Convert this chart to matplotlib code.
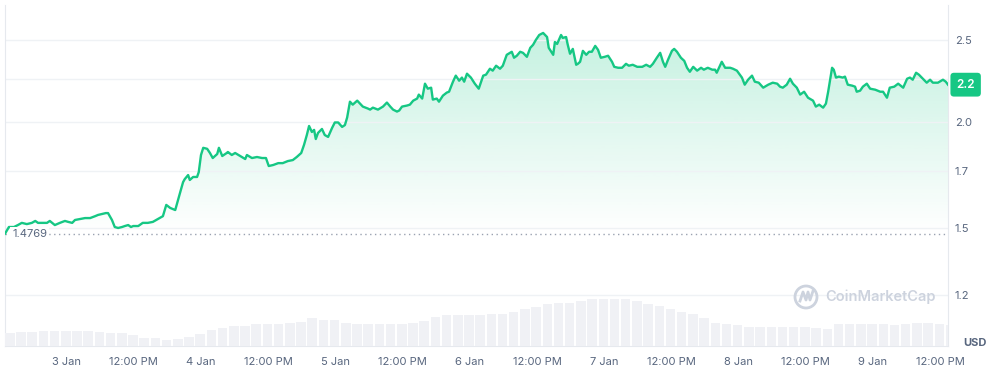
import numpy as np
import pandas as pd
import matplotlib
matplotlib.use("Agg")
import matplotlib.pyplot as plt
import matplotlib.dates as mdates
from matplotlib.ticker import FixedLocator, FuncFormatter, NullFormatter
from matplotlib.patches import Ellipse

plt.rcParams['font.family'] = ['Inter', 'DejaVu Sans']

# price series (hours after 2 Jan 13:00, price in USD)
hours = [0.0, 0.7, 1.6, 2.3, 3.0, 3.9, 4.8, 5.4, 5.9, 6.6, 7.5, 8.0, 8.9, 9.8, 10.7, 11.3, 12.0, 12.5, 13.4, 14.3,
         15.2, 16.1, 16.6, 17.3, 18.0, 18.4, 19.1, 19.6, 20.2, 20.9, 21.4, 22.0, 22.5, 22.9, 23.8, 24.6, 25.5, 26.4,
         27.3, 28.2, 28.8, 29.5, 30.4, 30.9, 31.4, 31.8, 32.1, 32.7, 33.0, 33.6, 34.3, 34.6, 35.0, 35.4, 36.1, 36.6,
         37.1, 37.9, 38.2, 38.8, 39.6, 39.8, 40.5, 41.1, 42.0, 42.9, 43.2, 44.1, 45.0, 45.9, 46.6, 47.1, 47.9, 48.8,
         49.6, 50.5, 51.4, 52.1, 52.9, 53.4, 53.9, 54.3, 54.8, 55.2, 55.5, 55.9, 56.6, 57.1, 57.7, 58.4, 58.9, 59.5,
         60.2, 60.7, 61.1, 61.6, 62.1, 62.9, 63.4, 63.9, 64.8, 65.2, 65.7, 66.6, 67.5, 68.2, 68.8, 69.3, 70.0, 70.4,
         70.9, 71.8, 72.3, 72.9, 73.6, 73.9, 74.5, 75.0, 75.5, 76.1, 76.4, 77.1, 77.5, 78.2, 78.9, 79.3, 80.0, 80.5,
         81.1, 81.6, 82.0, 82.5, 83.2, 83.9, 84.6, 85.4, 85.9, 86.6, 87.1, 87.7, 88.4, 88.9, 89.6, 90.5, 90.9, 91.4,
         92.0, 92.5, 93.2, 93.8, 94.3, 94.8, 95.4, 96.1, 96.8, 97.1, 97.9, 98.2, 98.6, 99.3, 99.6, 100.2, 100.5,
         100.9, 101.4, 102.0, 102.3, 102.7, 103.2, 103.8, 104.3, 104.8, 105.4, 105.9, 106.4, 107.1, 107.7, 108.4,
         108.8, 109.5, 110.2, 110.9, 111.4, 112.1, 112.9, 113.8, 114.5, 115.2, 115.7, 116.4, 117.0, 117.5, 117.9,
         118.4, 119.1, 119.5, 120.0, 120.7, 121.3, 121.8, 122.3, 122.9, 123.6, 124.3, 124.8, 125.5, 126.3, 126.8,
         127.1, 128.0, 128.6, 129.5, 130.0, 130.7, 131.1, 131.6, 132.1, 132.7, 133.4, 133.9, 134.6, 135.4, 136.3,
         137.1, 137.9, 138.4, 138.9, 139.6, 140.2, 140.7, 141.4, 142.0, 142.7, 143.4, 144.3, 144.8, 145.4, 146.1,
         146.6, 147.0, 147.7, 148.0, 148.4, 148.9, 149.6, 150.0, 150.5, 151.3, 151.8, 152.1, 152.7, 153.2, 153.9,
         154.5, 155.4, 156.3, 156.8, 157.5, 158.0, 158.8, 159.5, 160.4, 161.1, 161.6, 162.1, 162.7, 163.2, 163.9,
         164.6, 165.2, 165.7, 166.6, 167.5, 168.0, 168.4]
prices = [1.4769, 1.504, 1.504, 1.512, 1.521, 1.516, 1.521, 1.529, 1.521, 1.521, 1.521, 1.529, 1.512, 1.521, 1.529,
          1.525, 1.521, 1.533, 1.537, 1.541, 1.541, 1.549, 1.554, 1.558, 1.562, 1.562, 1.533, 1.504, 1.500, 1.504,
          1.508, 1.512, 1.504, 1.508, 1.508, 1.521, 1.521, 1.525, 1.537, 1.549, 1.597, 1.584, 1.575, 1.619, 1.663,
          1.699, 1.713, 1.732, 1.709, 1.723, 1.723, 1.746, 1.829, 1.865, 1.860, 1.839, 1.814, 1.834, 1.865, 1.824,
          1.839, 1.844, 1.829, 1.839, 1.824, 1.809, 1.829, 1.814, 1.819, 1.814, 1.814, 1.775, 1.780, 1.789, 1.789,
          1.799, 1.804, 1.819, 1.839, 1.880, 1.931, 1.979, 1.947, 1.958, 1.910, 1.942, 1.963, 1.931, 1.921, 1.968,
          1.998, 1.998, 1.974, 1.984, 2.025, 2.114, 2.097, 2.120, 2.103, 2.086, 2.075, 2.069, 2.080, 2.069, 2.086,
          2.109, 2.086, 2.069, 2.058, 2.064, 2.086, 2.092, 2.097, 2.120, 2.132, 2.155, 2.132, 2.220, 2.190, 2.196,
          2.126, 2.132, 2.114, 2.149, 2.167, 2.172, 2.232, 2.269, 2.238, 2.257, 2.232, 2.281, 2.257, 2.220, 2.190,
          2.269, 2.275, 2.312, 2.300, 2.331, 2.312, 2.331, 2.401, 2.421, 2.382, 2.395, 2.421, 2.414, 2.388, 2.447,
          2.467, 2.500, 2.534, 2.548, 2.520, 2.447, 2.401, 2.486, 2.473, 2.534, 2.514, 2.520, 2.467, 2.408, 2.440,
          2.337, 2.343, 2.356, 2.427, 2.401, 2.421, 2.421, 2.460, 2.434, 2.382, 2.388, 2.395, 2.356, 2.324, 2.318,
          2.318, 2.343, 2.331, 2.337, 2.324, 2.324, 2.337, 2.324, 2.343, 2.382, 2.414, 2.356, 2.324, 2.369, 2.427,
          2.440, 2.421, 2.382, 2.362, 2.318, 2.293, 2.324, 2.300, 2.318, 2.306, 2.318, 2.306, 2.306, 2.287, 2.356,
          2.318, 2.318, 2.312, 2.300, 2.281, 2.257, 2.214, 2.244, 2.269, 2.232, 2.226, 2.196, 2.214, 2.226, 2.220,
          2.202, 2.196, 2.214, 2.250, 2.220, 2.196, 2.155, 2.172, 2.137, 2.120, 2.086, 2.097, 2.080, 2.103, 2.172,
          2.318, 2.306, 2.257, 2.263, 2.257, 2.263, 2.214, 2.208, 2.202, 2.172, 2.178, 2.202, 2.220, 2.190, 2.184,
          2.172, 2.172, 2.137, 2.196, 2.202, 2.220, 2.196, 2.250, 2.257, 2.244, 2.287, 2.275, 2.250, 2.226, 2.244,
          2.226, 2.226, 2.244, 2.232, 2.214]

# volume, one bar per 2 hours (millions USD)
volume = [13, 14, 14, 15, 15, 15, 15, 15, 14, 13, 13, 11, 8, 8, 6, 7, 9, 12, 16, 18,
          20, 20, 22, 22, 22, 23, 24, 28, 26, 26, 23, 22, 22, 22, 22, 22, 23, 25, 29, 31,
          31, 31, 31, 32, 32, 34, 37, 39, 42, 43, 43, 45, 47, 47, 47, 47, 45, 42, 40, 37,
          34, 32, 28, 23, 22, 21, 19, 19, 19, 19, 19, 19, 18, 17, 22, 22, 22, 22, 22, 21,
          22, 23, 23, 22, 21]

open_price = 1.4769
y_ticks = [1.25, 1.5, 1.75, 2.0, 2.25, 2.5]
# the 2.25 label sits under the current-price tag, so it is left blank
y_labels = ["1.2", "1.5", "1.7", "2.0", "", "2.5"]

green = "#16c784"
txt = "#58667e"
grid_c = "#eff2f5"

start = pd.Timestamp("2025-01-02 13:00")
t = start + pd.to_timedelta(hours, unit="h")
tv = start + pd.to_timedelta(np.arange(len(volume)) * 2, unit="h")

fig = plt.figure(figsize=(10.04, 3.70), dpi=100)
ax = fig.add_axes([5 / 1004, 24 / 370, 943 / 1004, 341 / 370])

ax.set_yscale("log")
ax.set_ylim(1.0886, 2.749)
ax.set_xlim(t[0], start + pd.Timedelta(hours=168.4))

# volume bars on a twin axis
ax2 = ax.twinx()
ax2.bar(tv, volume, width=2 / 24 * 0.85, align="edge", color="#f0f1f5", zorder=1)
ax2.set_ylim(0, 340)
ax2.set_yticks([])
for s in ax2.spines.values():
    s.set_visible(False)

# gradient fill between price and open price
poly = ax.fill_between(t, prices, open_price, color="none", lw=0)
grad = np.zeros((256, 1, 4))
rgb = matplotlib.colors.to_rgb(green)
grad[..., 0], grad[..., 1], grad[..., 2] = rgb
frac = np.linspace(0, 1, 256)
grad[:, 0, 3] = np.clip((frac - 0.33) / (0.92 - 0.33), 0, 1) * 0.25
img = ax.imshow(grad, extent=[0, 1, 0, 1], transform=ax.transAxes, origin="lower",
                aspect="auto", zorder=1.5)
img.set_clip_path(poly.get_paths()[0], transform=ax.transData)

ax.plot(t, prices, color=green, lw=1.7, zorder=3, solid_joinstyle="round")
ax.axhline(open_price, color="#9aa2b1", lw=1, ls=(0, (1, 2.5)), zorder=2)
ax.text(0.0075, open_price, "1.4769", transform=ax.get_yaxis_transform(), color=txt, fontsize=8,
        va="center", ha="left", zorder=4,
        bbox=dict(facecolor="white", edgecolor="none", pad=1.5))

# axes styling
ax.yaxis.set_major_locator(FixedLocator(y_ticks))
ax.yaxis.set_minor_formatter(NullFormatter())
ax.yaxis.set_minor_locator(FixedLocator([]))
ax.set_yticklabels(y_labels)
ax.yaxis.tick_right()
ax.tick_params(axis="y", length=0, pad=5, labelsize=8, labelcolor=txt)
ax.grid(axis="y", color=grid_c, lw=1, zorder=0)

xt = pd.date_range("2025-01-03 00:00", "2025-01-09 12:00", freq="12h")
ax.set_xticks(xt)


def fmt_x(v, pos):
    d = mdates.num2date(v)
    if d.hour == 0:
        return f"{d.day} Jan"
    return "12:00 PM"


ax.xaxis.set_major_formatter(FuncFormatter(fmt_x))
ax.tick_params(axis="x", length=0, pad=8, labelsize=8, labelcolor=txt)

for side in ["left", "right", "bottom"]:
    ax.spines[side].set_color("#e6e9ee")
ax.spines["top"].set_visible(False)

# current price tag
ax.annotate("2.2", xy=(1, prices[-1]), xycoords=("axes fraction", "data"),
            xytext=(6, 0), textcoords="offset points", color="white", fontsize=8.5,
            fontweight="semibold", va="center", ha="left", zorder=6, annotation_clip=False,
            bbox=dict(boxstyle="round,pad=0.5,rounding_size=0.3", facecolor=green, edgecolor="none"))

fig.text(963 / 1004, 1 - 343 / 370, "USD", color=txt, fontsize=8, fontweight="bold", va="center", ha="left")

# watermark
wm = "#cdd3de"
fig.add_artist(Ellipse((806 / 1004, 1 - 297 / 370), 22 / 1004, 22 / 370, transform=fig.transFigure,
                       fill=False, edgecolor=wm, lw=2))
fig.add_artist(plt.Line2D([800 / 1004, 803 / 1004, 806 / 1004, 808 / 1004, 810 / 1004, 813 / 1004],
                          [1 - 301 / 370, 1 - 292 / 370, 1 - 300 / 370, 1 - 292 / 370, 1 - 300 / 370, 1 - 291 / 370],
                          transform=fig.transFigure, color=wm, lw=2))
fig.text(825 / 1004, 1 - 297 / 370, "CoinMarketCap", color=wm, fontsize=10.5, fontweight="semibold",
         va="center", ha="left")

fig.savefig("out.png", dpi=100)
